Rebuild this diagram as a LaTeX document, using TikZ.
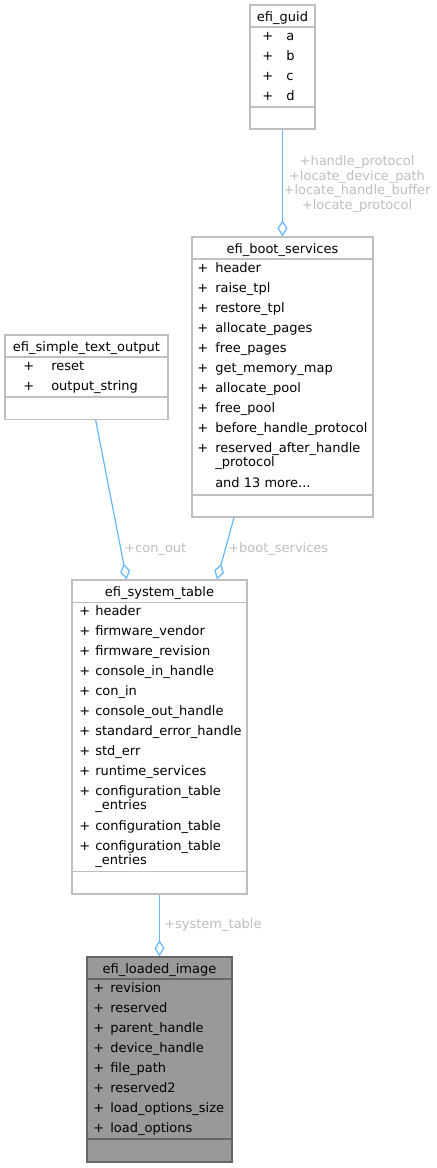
\documentclass[tikz,border=0pt]{standalone}
\usepackage{fontspec}
\setmainfont{DejaVu Sans}
\usetikzlibrary{arrows.meta,calc}
\definecolor{edgeblue}{HTML}{63B8FF}
\definecolor{boxgray}{HTML}{BFBFBF}
\definecolor{lblgray}{HTML}{BEBEBE}
\definecolor{mainfill}{HTML}{999999}
\definecolor{mainline}{HTML}{666666}

\begin{document}
\begin{tikzpicture}[x=0.75pt, y=-0.75pt,
    classbox/.style={draw=boxgray, line width=1pt, fill=white, inner sep=0pt},
    mainbox/.style={draw=mainline, line width=1pt, fill=mainfill, inner sep=0pt},
    sepline/.style={draw=boxgray, line width=1pt},
    mainsep/.style={draw=mainline, line width=1pt},
    title/.style={anchor=base, inner sep=0pt, font=\fontsize{9.75pt}{11pt}\selectfont},
    member/.style={anchor=base west, inner sep=0pt, font=\fontsize{9.75pt}{11pt}\selectfont},
    edgelabel/.style={anchor=base west, inner sep=0pt, text=lblgray, font=\fontsize{9.75pt}{11pt}\selectfont},
    assoc/.style={draw=edgeblue, line width=0.9pt, -{Diamond[open, length=12pt, width=7.5pt]}}]

    \useasboundingbox (0,0) rectangle (436,1168);

    % efi_guid
    \node[classbox, minimum width=48.75pt, minimum height=93pt] (guid) at (282.5,67) {};
    \node[title] (guidt) at (282.5,21) {efi\_guid};
    \draw[sepline] (250,27) -- (315,27);
    \draw[sepline] (250,107) -- (315,107);
    \foreach \yy/\name [count=\i] in {40/a, 60/b, 80/c, 100/d} {
        \node[member] (guidp\i) at (262,\yy) {+};
        \node[member] (guidm\i) at (286,\yy) {\name};
    }

    % efi_boot_services
    \node[classbox, minimum width=135.75pt, minimum height=210pt] (boot) at (282.5,377) {};
    \node[title] (boott) at (282.5,253) {efi\_boot\_services};
    \draw[sepline] (192,259) -- (373,259);
    \draw[sepline] (192,495) -- (373,495);
    \foreach \yy/\name [count=\i] in {272/header, 292/raise\_tpl, 312/restore\_tpl,
        332/allocate\_pages, 352/free\_pages, 372/get\_memory\_map, 392/allocate\_pool,
        412/free\_pool, 432/before\_handle\_protocol, 452/reserved\_after\_handle} {
        \node[member] (bootp\i) at (197,\yy) {+};
        \node[member] (bootm\i) at (215,\yy) {\name};
    }
    \node[member] (bootm11) at (215,466.5) {\_protocol};
    \node[member] (bootm12) at (215,487.5) {and 13 more...};

    % efi_simple_text_output
    \node[classbox, minimum width=122.25pt, minimum height=63.4pt] (sto) at (86.5,377.25) {};
    \node[title] (stot) at (86.5,351) {efi\_simple\_text\_output};
    \draw[sepline] (5,357) -- (168,357);
    \draw[sepline] (5,397) -- (168,397);
    \foreach \yy/\name [count=\i] in {370/reset, 390/output\_string} {
        \node[member] (stop\i) at (23,\yy) {+};
        \node[member] (stom\i) at (51,\yy) {\name};
    }

    % efi_system_table
    \node[classbox, minimum width=131.25pt, minimum height=235.5pt] (systab) at (159.5,737) {};
    \node[title] (systabt) at (159.5,596) {efi\_system\_table};
    \draw[sepline] (72,602.5) -- (247,602.5);
    \draw[sepline] (72,871.5) -- (247,871.5);
    \foreach \yy/\name [count=\i] in {615/header, 635/firmware\_vendor, 655/firmware\_revision,
        675/console\_in\_handle, 695/con\_in, 715/console\_out\_handle,
        735/standard\_error\_handle, 755/std\_err, 775/runtime\_services,
        795/configuration\_table, 830/configuration\_table, 850/configuration\_table} {
        \node[member] (systabp\i) at (79,\yy) {+};
        \node[member] (systabm\i) at (95,\yy) {\name};
    }
    \node[member] (systabm13) at (95,809.5) {\_entries};
    \node[member] (systabm14) at (95,864.5) {\_entries};

    % efi_loaded_image
    \node[mainbox, minimum width=108.75pt, minimum height=153.75pt] (loaded) at (159.5,1059.5) {};
    \node[title] (loadedt) at (159.5,973) {efi\_loaded\_image};
    \draw[mainsep] (87,979) -- (232,979);
    \draw[mainsep] (87,1139) -- (232,1139);
    \foreach \yy/\name [count=\i] in {992/revision, 1012/reserved, 1032/parent\_handle,
        1052/device\_handle, 1072/file\_path, 1092/reserved2,
        1112/load\_options\_size, 1132/load\_options} {
        \node[member] (loadedp\i) at (93,\yy) {+};
        \node[member] (loadedm\i) at (110,\yy) {\name};
    }

    % aggregations
    \draw[assoc] (guid.south) -- (boot.north);
    \draw[assoc] ($(sto.south)+(9.2,0)$) -- ($(systab.north)+(-32.8,0)$);
    \draw[assoc] ($(boot.south)+(-48.5,0)$) -- ($(systab.north)+(57.5,0)$);
    \draw[assoc] (systab.south) -- (loaded.north);

    % edge labels
    \foreach \yy/\name [count=\i] in {165/+handle\_protocol, 180/+locate\_device\_path,
        194.5/+locate\_handle\_buffer, 209/+locate\_protocol} {
        \node[edgelabel, anchor=base] (guidl\i) at (357,\yy) {\name};
    }
    \node[edgelabel] (stol) at (124,552) {+con\_out};
    \node[edgelabel] (bootl) at (228,552) {+boot\_services};
    \node[edgelabel] (systabl) at (164,928.5) {+system\_table};

\end{tikzpicture}
\end{document}
